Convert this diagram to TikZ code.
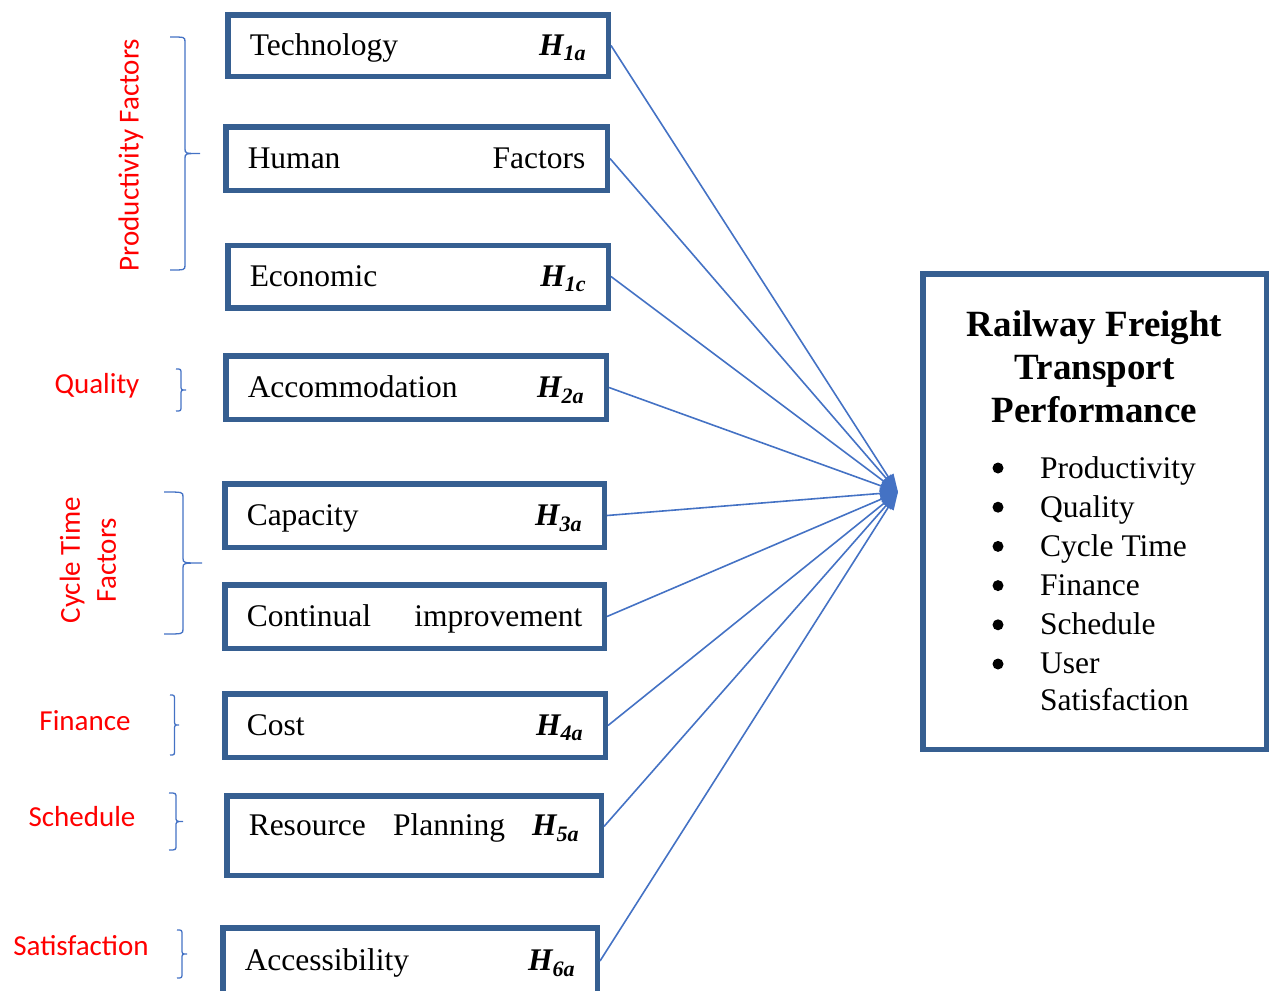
\documentclass[tikz,border=0pt]{standalone}
\usepackage{fontspec}
\setmainfont{Liberation Serif}
\newfontfamily\redfont{Carlito}
\usetikzlibrary{arrows.meta}
\definecolor{boxblue}{RGB}{54,95,145}
\definecolor{linkblue}{RGB}{68,114,196}
\definecolor{labelred}{RGB}{255,0,0}
\setlength{\parindent}{0pt}
% hypothesis tag and a gap that beats \parfillskip
\newcommand{\hyp}[1]{\textbf{\textit{H\textsubscript{#1}}}}
\newcommand{\colgap}{\hskip 0pt plus 1filll}
% right-pointing brace: x, top, bottom, amplitude
\newcommand{\groupbrace}[4]{%
  \draw[bracket] (#1,#2) .. controls ({#1+#4/2},#2) .. ({#1+#4/2},{#2+5})
    -- ({#1+#4/2},{(#2+#3)/2-5}) .. controls ({#1+#4/2},{(#2+#3)/2}) .. ({#1+#4},{(#2+#3)/2})
    .. controls ({#1+#4/2},{(#2+#3)/2}) .. ({#1+#4/2},{(#2+#3)/2+5})
    -- ({#1+#4/2},{#3-5}) .. controls ({#1+#4/2},#3) .. (#1,#3);}

\begin{document}
\begin{tikzpicture}[x=1pt,y=-1pt,
  factor/.style={draw=boxblue,line width=5.5pt,inner xsep=22pt,inner ysep=0pt,minimum height=63.5pt,
    text height=26pt,text depth=7pt,font=\fontsize{31.5}{36}\selectfont},
  link/.style={linkblue,line width=1.6pt,-{Triangle[length=18pt,width=12pt]}},
  bracket/.style={linkblue,line width=1.3pt},
  group/.style={text=labelred,font=\redfont\fontsize{29}{36}\selectfont}]
  \useasboundingbox (0,0) rectangle (1275,991);

  % factor boxes
  \node[factor,text width=336.5pt,minimum height=61.5pt] (tech) at (418,45.5) {Technology\colgap\hyp{1a}};
  \node[factor,text width=337.5pt] (human) at (416.5,158.5) {Human\colgap Factors};
  \node[factor,text width=336.5pt,minimum height=62.5pt] (econ) at (418,276.5) {Economic\colgap\hyp{1c}};
  \node[factor,text width=336.5pt] (accom) at (416,387.5) {Accommodation\colgap\hyp{2a}};
  \node[factor,text width=335.5pt] (capac) at (414.5,515.5) {Capacity\colgap\hyp{3a}};
  \node[factor,text width=335.5pt] (improve) at (414.5,616.5) {Continual\colgap improvement};
  \node[factor,text width=336.5pt] (cost) at (415,725.5) {Cost\colgap\hyp{4a}};
  \node[factor,text width=330.5pt,minimum height=79.5pt,text depth=26pt] (plan) at (414,835.5) {Resource\colgap Planning\colgap\hyp{5a}};
  \node[factor,text width=330.5pt,minimum height=66pt] (access) at (410,961) {Accessibility\colgap\hyp{6a}};

  % performance box
  \node[draw=boxblue,line width=5.5pt,minimum width=343.5pt,minimum height=475.5pt] (perf) at (1094.5,511.5) {};
  \node[anchor=north,align=center,inner sep=0pt,font=\bfseries\fontsize{37}{43}\selectfont] (perftitle) at (1094.5,311) {Railway Freight\\Transport\\Performance};
  \node[anchor=north west,align=left,inner sep=0pt,font=\fontsize{31.5}{39}\selectfont] (perflist) at (1040,456)
    {Productivity\\Quality\\Cycle Time\\Finance\\Schedule\\User\\[-2pt]Satisfaction};
  \foreach \i in {0,...,5}
    \fill (998,{468+39.2*\i}) circle (5.5);

  % every factor points at the performance box
  \coordinate (hub) at (898,492);
  \foreach \n in {tech,human,econ,accom,capac,improve,cost,access}
    \draw[link] (\n.east) -- (hub);
  \draw[link] ([yshift=9pt]plan.east) -- (hub);

  % group labels and braces
  \node[group,rotate=90] (prodlabel) at (131,155) {Productivity Factors};
  \node[group] (quallabel) at (97,386) {Quality};
  \node[group,rotate=90,align=center] (cyclelabel) at (88,560) {Cycle Time\\Factors};
  \node[group] (finlabel) at (85,721) {Finance};
  \node[group] (schedlabel) at (82,817) {Schedule};
  \node[group] (satlabel) at (81,946) {Satisfaction};
  \groupbrace{170}{37}{270}{30}
  \groupbrace{176}{369}{411}{10}
  \groupbrace{164}{492}{634}{38}
  \groupbrace{170}{695}{755}{9}
  \groupbrace{169}{793}{850}{14}
  \groupbrace{177}{930}{978}{10}
\end{tikzpicture}
\end{document}
